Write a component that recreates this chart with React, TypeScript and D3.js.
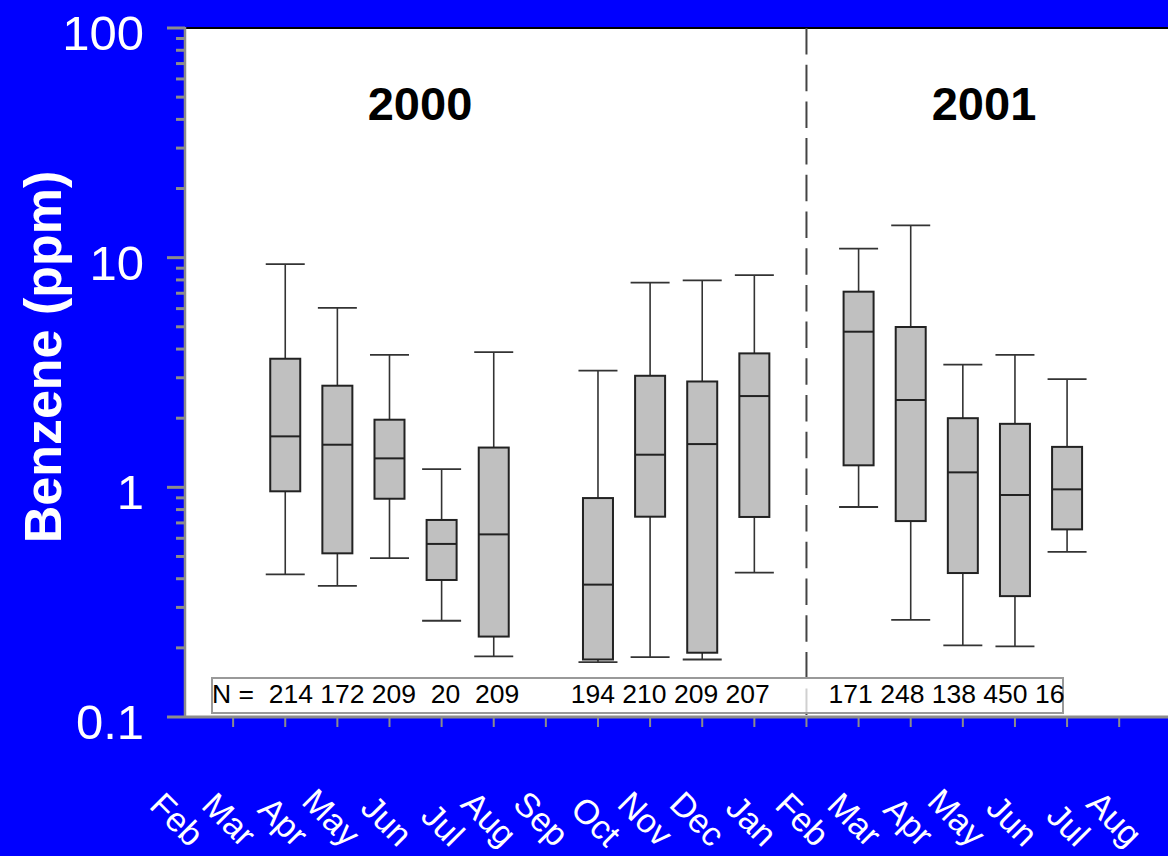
import React from 'react';
import * as d3 from 'd3';

// ---- data ----
const monthLabels = ['Feb','Mar','Apr','May','Jun','Jul','Aug','Sep','Oct','Nov','Dec','Jan','Feb','Mar','Apr','May','Jun','Jul','Aug'];
const monthKeys = monthLabels.map((m, i) => `${i < 11 ? 2000 : 2001}-${m}-${i}`);

// box positions (index into monthLabels)
const boxIndex = [2, 3, 4, 5, 6, 8, 9, 10, 11, 13, 14, 15, 16, 17];
const whiskerHigh = [9.38, 6.05, 3.77, 1.20, 3.88, 3.22, 7.78, 7.96, 8.40, 10.94, 13.83, 3.42, 3.77, 2.96];
const q3 = [3.63, 2.77, 1.97, 0.721, 1.49, 0.898, 3.06, 2.89, 3.83, 7.11, 4.99, 2.00, 1.89, 1.50];
const median = [1.667, 1.533, 1.337, 0.567, 0.624, 0.377, 1.387, 1.543, 2.497, 4.76, 2.40, 1.162, 0.926, 0.98];
const q1 = [0.961, 0.516, 0.892, 0.395, 0.224, 0.178, 0.745, 0.1905, 0.743, 1.247, 0.713, 0.4235, 0.336, 0.656];
const whiskerLow = [0.418, 0.372, 0.492, 0.2625, 0.1837, 0.1735, 0.1824, 0.178, 0.425, 0.821, 0.265, 0.205, 0.203, 0.524];
const nLine = 'N =  214 172 209  20  209       194 210 209 207        171 248 138 450 16';

const yMajorTicks = [0.1, 1, 10, 100];
const yTickLabels = ['0.1', '1', '10', '100'];
const yearLabels = ['2000', '2001'];
const yAxisTitle = 'Benzene (ppm)';

export default function App() {
  const W = 1168, H = 856;
  const plotL = 185, plotR = 1168, plotT = 28, plotB = 717;
  const x = d3.scalePoint<string>().domain(monthKeys).range([181, 1119.2]).padding(0);
  const y = d3.scaleLog().domain([0.1, 100]).range([plotB, plotT]);
  const minorTicks: number[] = [];
  [0.1, 1, 10].forEach(d => { for (let k = 2; k <= 9; k++) minorTicks.push(d * k); });
  const gray = '#8c8c8c';
  const boxW = 30, capW = 39;
  const sepX = x(monthKeys[12])!;

  return (
    <svg width={W} height={H} style={{ position: 'absolute', left: 0, top: 0, display: 'block' }}
      fontFamily="'Liberation Sans', Arial, sans-serif">
      <rect x={0} y={0} width={W} height={H} fill="#0000ff" />
      <rect x={plotL} y={plotT} width={plotR - plotL} height={plotB - plotT} fill="#ffffff" />
      <line x1={plotL} x2={plotR} y1={plotT} y2={plotT} stroke="#000" strokeWidth={2} />

      {/* year labels */}
      <text x={420} y={120} textAnchor="middle" fontWeight="bold" fontSize={47} fill="#000">{yearLabels[0]}</text>
      <text x={984} y={120} textAnchor="middle" fontWeight="bold" fontSize={47} fill="#000">{yearLabels[1]}</text>

      {/* separator */}
      <line x1={sepX} x2={sepX} y1={plotT} y2={plotB} stroke="#444" strokeWidth={2} strokeDasharray="26.5 10.2" />

      {/* boxes */}
      {boxIndex.map((bi, i) => {
        const cx = x(monthKeys[bi])!;
        return (
          <g key={i}>
            <line x1={cx} x2={cx} y1={y(whiskerHigh[i])} y2={y(q3[i])} stroke="#333" strokeWidth={1.6} />
            <line x1={cx} x2={cx} y1={y(q1[i])} y2={y(whiskerLow[i])} stroke="#333" strokeWidth={1.6} />
            <line x1={cx - capW / 2} x2={cx + capW / 2} y1={y(whiskerHigh[i])} y2={y(whiskerHigh[i])} stroke="#333" strokeWidth={1.8} />
            <line x1={cx - capW / 2} x2={cx + capW / 2} y1={y(whiskerLow[i])} y2={y(whiskerLow[i])} stroke="#333" strokeWidth={1.8} />
            <rect x={cx - boxW / 2} y={y(q3[i])} width={boxW} height={y(q1[i]) - y(q3[i])} fill="#c0c0c0" stroke="#222" strokeWidth={2} />
            <line x1={cx - boxW / 2} x2={cx + boxW / 2} y1={y(median[i])} y2={y(median[i])} stroke="#222" strokeWidth={2} />
          </g>
        );
      })}

      {/* N box */}
      <rect x={212} y={678} width={851} height={35} fill="#ffffff" fillOpacity={0.75} stroke="#999" strokeWidth={2} />
      <text x={212} y={703} fontSize={26.5} fill="#000" style={{ whiteSpace: 'pre' }}>{nLine}</text>

      {/* y axis */}
      <line x1={plotL} x2={plotL} y1={plotT - 1} y2={plotB + 1} stroke={gray} strokeWidth={2.5} />
      {minorTicks.map((t, i) => (
        <line key={'m' + i} x1={plotL - 9} x2={plotL} y1={y(t)} y2={y(t)} stroke={gray} strokeWidth={3} />
      ))}
      {yMajorTicks.map((t, i) => (
        <g key={'M' + i}>
          <line x1={plotL - 18} x2={plotL} y1={y(t)} y2={y(t)} stroke={gray} strokeWidth={3} />
          <text x={144} y={y(t) + 22} textAnchor="end" fontSize={49} fill="#fff">{yTickLabels[i]}</text>
        </g>
      ))}
      <text transform={`translate(61,357) rotate(-90)`} textAnchor="middle" fontWeight="bold" fontSize={52} fill="#fff">{yAxisTitle}</text>

      {/* x axis */}
      <line x1={plotL} x2={plotR} y1={plotB} y2={plotB} stroke={gray} strokeWidth={3} />
      {monthKeys.slice(1).map(k => (
        <line key={'xt' + k} x1={x(k)!} x2={x(k)!} y1={plotB} y2={plotB + 10} stroke={gray} strokeWidth={2} />
      ))}
      {monthKeys.map((k, i) => (
        <text key={'xl' + k} transform={`translate(${x(k)! + 8.4},848.4) rotate(45)`} textAnchor="end" fontSize={34} fill="#fff">{monthLabels[i]}</text>
      ))}
    </svg>
  );
}
